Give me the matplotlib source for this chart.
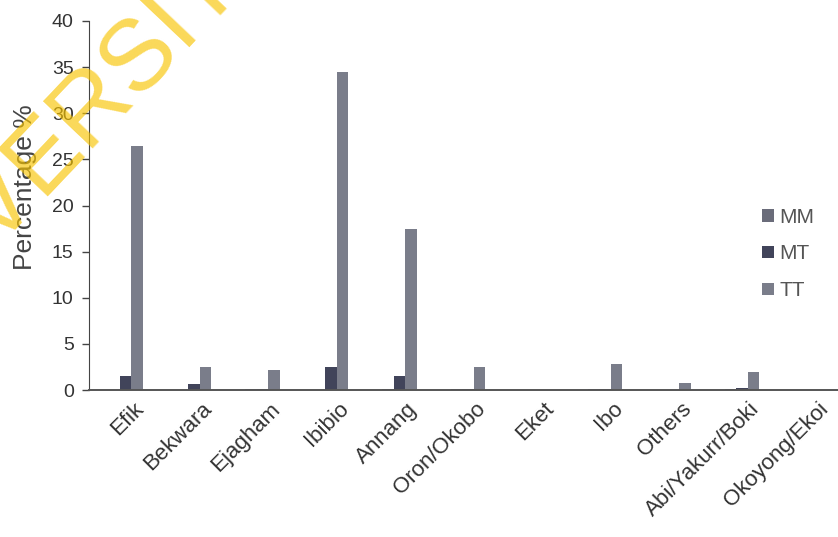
import matplotlib
matplotlib.use("Agg")
import matplotlib.pyplot as plt
import matplotlib.transforms as mtransforms
import numpy as np

plt.rcParams['font.family'] = ['Liberation Sans', 'DejaVu Sans']

# ---- data ----
groups = ['Efik', 'Bekwara', 'Ejagham', 'Ibibio', 'Annang', 'Oron/Okobo',
          'Eket', 'Ibo', 'Others', 'Abi/Yakurr/Boki', 'Okoyong/Ekoi']
mm = [0.0, 0.0, 0.1, 0.0, 0.1, 0.1, 0.0, 0.1, 0.0, 0.1, 0.0]
mt = [1.5, 0.6, 0.1, 2.5, 1.5, 0.1, 0.0, 0.1, 0.0, 0.2, 0.0]
tt = [26.5, 2.5, 2.2, 34.5, 17.5, 2.5, 0.0, 2.8, 0.8, 1.9, 0.0]
series_names = ['MM', 'MT', 'TT']
yticks = [0, 5, 10, 15, 20, 25, 30, 35, 40]

# ---- figure ----
fig = plt.figure(figsize=(8.38, 5.37), dpi=100)
ax = fig.add_axes([0.1062, 0.2737, 0.8938, 0.6872])

x = np.arange(len(groups))
w = 0.168
ax.bar(x - w, mm, w, color='#6a6c7a', label=series_names[0])
ax.bar(x, mt, w, color='#41445a', label=series_names[1])
ax.bar(x + w, tt, w, color='#7a7d8a', label=series_names[2])

ax.set_xlim(-0.533, 10.40)
ax.set_ylim(0, 40)
ax.set_yticks(yticks)
ax.tick_params(axis='y', direction='out', length=5, width=1, color='#444',
               labelsize=14, labelcolor='#333', pad=6)
ax.set_xticks(x)
ax.set_xticklabels(groups, rotation=45, ha='right', fontsize=16, color='#333')
ax.tick_params(axis='x', length=0, pad=6)
# shift labels a bit to the right like the original
offset = mtransforms.ScaledTranslation(0.22, 0, fig.dpi_scale_trans)
for lab in ax.get_xticklabels():
    lab.set_transform(lab.get_transform() + offset)

for s in ['top', 'right']:
    ax.spines[s].set_visible(False)
ax.spines['left'].set_color('#444')
ax.spines['bottom'].set_color('#555')
ax.spines['bottom'].set_linewidth(1.4)

ax.set_ylabel('Percentage %', fontsize=19, color='#444')
ax.yaxis.set_label_coords(-0.07, 0.55)

leg = ax.legend(loc='center left', bbox_to_anchor=(752 / 838, (537 - 254) / 537),
                bbox_transform=fig.transFigure, frameon=False, fontsize=15,
                handlelength=0.55, handleheight=0.55, handletextpad=0.25,
                labelspacing=0.85, borderpad=0)
for t in leg.get_texts():
    t.set_color('#555')

# yellow scan watermark
wm_kw = dict(fontsize=72, color='#f8c400', alpha=0.65, rotation=46.5,
             rotation_mode='anchor', va='baseline', zorder=10)
fig.text(40 / 838, (537 - 196) / 537, 'UNIV', ha='right', **wm_kw)
fig.text(40 / 838, (537 - 196) / 537, 'ERSITY', ha='left', **wm_kw)

plt.savefig('out.png', dpi=100)
